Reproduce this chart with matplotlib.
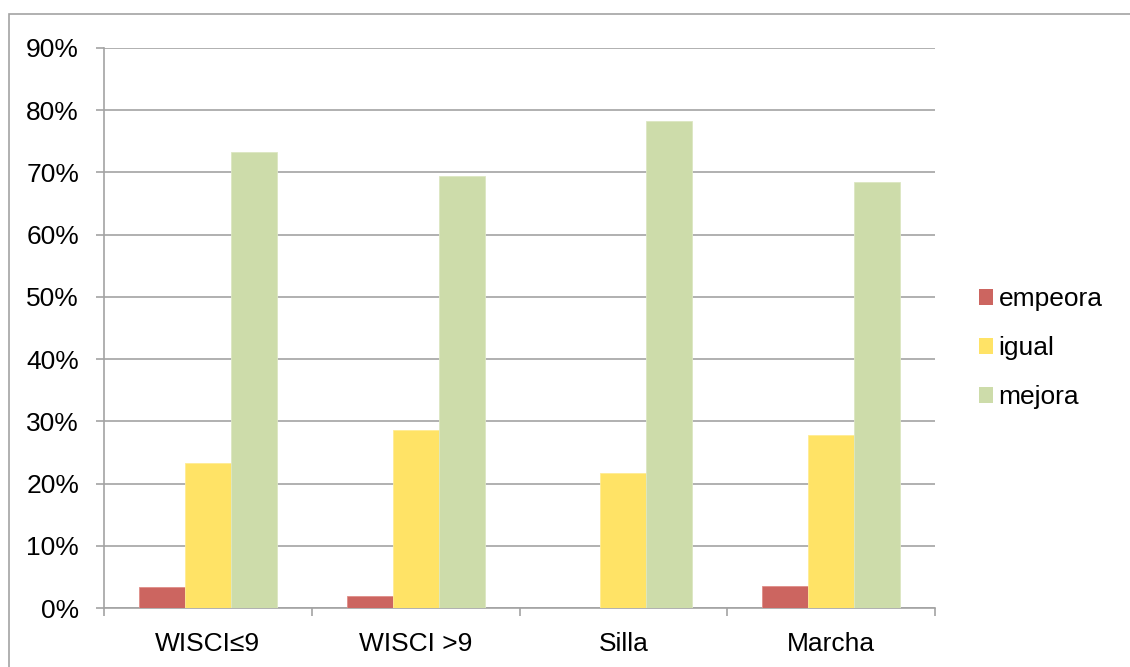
import matplotlib
matplotlib.use("Agg")
import matplotlib.pyplot as plt
import numpy as np
from matplotlib.patches import Rectangle
from matplotlib.ticker import FuncFormatter, FixedLocator

plt.rcParams["font.family"] = ["Liberation Sans", "DejaVu Sans"]

# data (fractions)
categories = ["WISCI≤9", "WISCI >9", "Silla", "Marcha"]
series_names = ["empeora", "igual", "mejora"]
empeora = [0.033, 0.020, 0.0, 0.036]
igual = [0.233, 0.286, 0.217, 0.278]
mejora = [0.733, 0.694, 0.783, 0.685]
y_ticks = [0.0, 0.1, 0.2, 0.3, 0.4, 0.5, 0.6, 0.7, 0.8, 0.9]

colors = ["#CC6560", "#FFE366", "#CDDCAA"]
edges = ["#E08E88", "#FFEC94", "#DCE7C2"]
grid_col = "#A3A3A3"

fig = plt.figure(figsize=(11.3, 6.67), dpi=100)
# outer chart border (Excel style)
fig.patches.append(Rectangle((9 / 1130, -0.1), 1.2, 1.1 - 14 / 667,
                             transform=fig.transFigure, fill=False,
                             edgecolor=grid_col, linewidth=1.2))

ax = fig.add_axes([104 / 1130, 1 - 608 / 667, 831 / 1130, 560 / 667])

x = np.arange(len(categories))
width = 46 / 207.5
for i, (vals, name) in enumerate(zip([empeora, igual, mejora], series_names)):
    ax.bar(x + (i - 1) * width, vals, width, color=colors[i],
           edgecolor=edges[i], linewidth=0.6, label=name, zorder=3)

ax.set_xlim(-0.5, len(categories) - 0.5)
ax.set_ylim(0, 0.9)
ax.set_yticks(y_ticks)
ax.yaxis.set_major_formatter(FuncFormatter(lambda v, p: "%d%%" % round(v * 100)))
ax.yaxis.grid(True, color=grid_col, linewidth=1.2, zorder=0)
ax.set_axisbelow(True)

ax.set_xticks(x)
ax.set_xticklabels(categories)
ax.xaxis.set_minor_locator(FixedLocator(np.arange(len(categories) + 1) - 0.5))
ax.tick_params(axis="x", which="major", length=0, pad=17, labelsize=19)
ax.tick_params(axis="x", which="minor", length=6, width=1.2, color=grid_col)
ax.tick_params(axis="y", length=6, width=1.2, color=grid_col, pad=12,
               labelsize=19)

for s in ["top", "right"]:
    ax.spines[s].set_visible(False)
for s in ["left", "bottom"]:
    ax.spines[s].set_color(grid_col)
    ax.spines[s].set_linewidth(1.2)

leg = ax.legend(loc="center left", bbox_to_anchor=(1.04, 0.464), frameon=False,
                fontsize=19, handlelength=0.55, handleheight=0.55,
                handletextpad=0.2, labelspacing=0.95, borderaxespad=0)
for h in leg.legend_handles:
    h.set_edgecolor("none")

fig.savefig("out.png", dpi=100)
